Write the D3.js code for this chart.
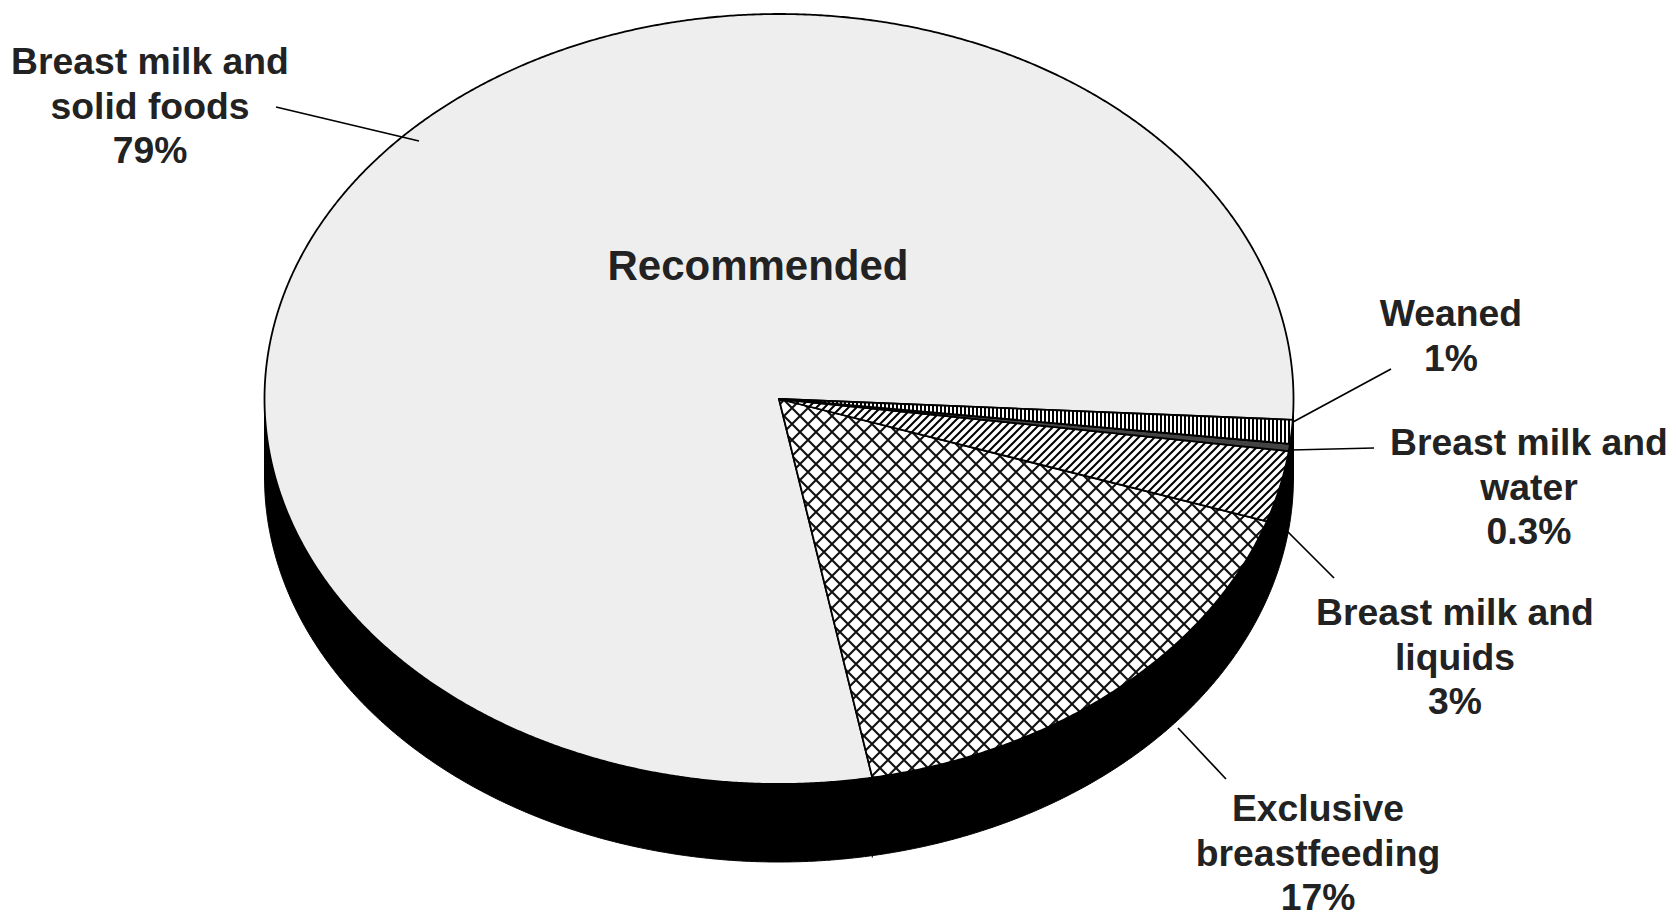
<!DOCTYPE html>
<html><head><meta charset="utf-8">
<script src="https://cdn.jsdelivr.net/npm/d3@7/dist/d3.min.js"></script>
<style>html,body{margin:0;background:#fff}svg{display:block}text{font-family:"Liberation Sans",Arial,sans-serif;font-weight:700;fill:#222;font-size:37.3px}</style>
</head><body><script>
const categories=["Weaned","Breast milk and water","Breast milk and liquids","Exclusive breastfeeding","Breast milk and solid foods"];
const values=[1,0.3,3,17,79];
const fills=["url(#vert)","#444","url(#diag)","url(#cross)","#eeeeee"];
const labelLines=[["Weaned","1%"],["Breast milk and","water","0.3%"],["Breast milk and","liquids","3%"],["Exclusive","breastfeeding","17%"],["Breast milk and","solid foods","79%"]];
const labelPos=[[1451,326],[1529,455],[1455,625],[1318,821],[150,74]];
const leaders=[[[1391,369],[1293,422]],[[1374,448],[1291,450]],[[1334,578],[1288,532]],[[1226,779],[1178,728]],[[276,107],[419,141]]];
const W=1676,H=912,cx=779,cy=399,rx=514.5,ry=385,depth=78,lh=44.5;
const svg=d3.select("body").append("svg").attr("width",W).attr("height",H);
const defs=svg.append("defs");
function pat(id,w,h,draw){const p=defs.append("pattern").attr("id",id).attr("patternUnits","userSpaceOnUse").attr("width",w).attr("height",h);
 p.append("rect").attr("width",w).attr("height",h).attr("fill","#fff");draw(p);}
pat("vert",4,4,p=>p.append("rect").attr("width",2).attr("height",4).attr("fill","#000"));
pat("diag",8,8,p=>p.append("path").attr("d","M-2,2L2,-2M0,8L8,0M6,10L10,6").attr("stroke","#000").attr("stroke-width",2));
pat("cross",16,16,p=>p.append("path").attr("d","M0,16L16,0M0,0L16,16").attr("stroke","#111").attr("stroke-width",2.1));
const x=d3.scaleLinear().domain([-1,1]).range([cx-rx,cx+rx]);
const y=d3.scaleLinear().domain([-1,1]).range([cy-ry,cy+ry]);
const arcAngles=(a,b)=>{const n=Math.max(2,Math.ceil((b-a)/0.005));return d3.range(n+1).map(i=>a+(b-a)*i/n);};
const front=arcAngles(Math.PI/2,3*Math.PI/2);
const sideTop=front.map(a=>[x(Math.sin(a)),y(-Math.cos(a))]);
const sideBot=front.slice().reverse().map(a=>[x(Math.sin(a)),y(-Math.cos(a))+depth]);
svg.append("path").attr("d",d3.line()(sideTop.concat(sideBot))+"Z").attr("fill","#000").attr("stroke","#000").attr("stroke-width",1);
const pie=d3.pie().sort(null).startAngle(93.1*Math.PI/180).endAngle(93.1*Math.PI/180+2*Math.PI);
const arcs=pie(values);
svg.append("g").selectAll("path").data(arcs.slice().reverse()).join("path")
 .attr("d",d=>{const pts=arcAngles(d.startAngle,d.endAngle).map(a=>[x(Math.sin(a)),y(-Math.cos(a))]);return d3.line()([[cx,cy],...pts])+"Z";})
 .attr("fill",d=>fills[d.index]).attr("stroke","#000").attr("stroke-width",1.8).attr("stroke-linejoin","round");
const e=arcs[3].endAngle;
svg.append("line").attr("x1",x(Math.sin(e))).attr("x2",x(Math.sin(e))).attr("y1",y(-Math.cos(e))).attr("y2",y(-Math.cos(e))+depth+2).attr("stroke","#000");
svg.selectAll("path.leader").data(leaders).join("path").attr("class","leader").attr("d",d=>d3.line()(d)).attr("stroke","#000").attr("stroke-width",1.7).attr("fill","none");
const t=svg.selectAll("text.lab").data(labelLines).join("text").attr("class","lab").attr("text-anchor","middle");
t.each(function(d,i){d3.select(this).selectAll("tspan").data(d).join("tspan").attr("x",labelPos[i][0]).attr("y",(_,j)=>labelPos[i][1]+j*lh).text(s=>s);});
svg.append("text").attr("x",758).attr("y",280).attr("text-anchor","middle").style("font-size","42px").text("Recommended");
</script></body></html>
